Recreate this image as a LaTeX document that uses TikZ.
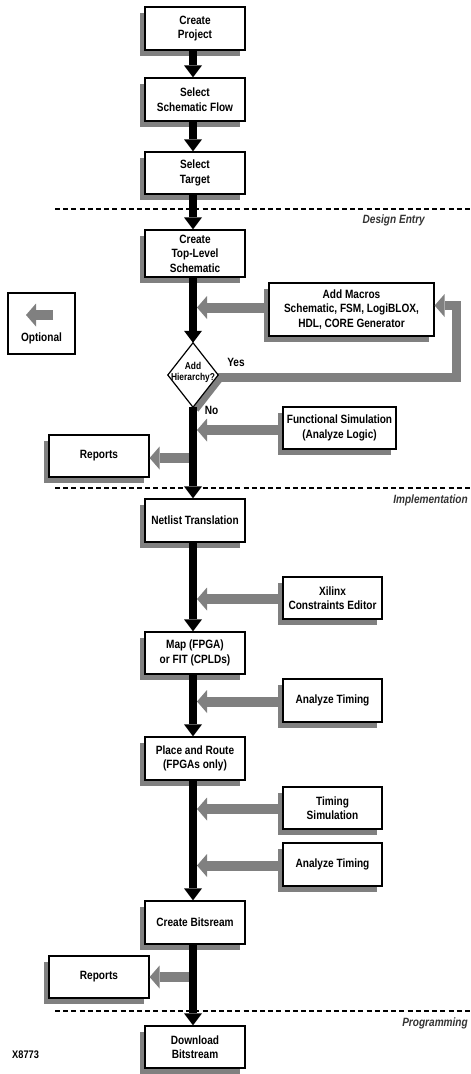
\documentclass[tikz,border=0pt]{standalone}
\usepackage{fontspec}
\setmainfont{Liberation Sans}[FakeStretch=0.84]
\usetikzlibrary{arrows.meta,shadows}
\definecolor{sg}{HTML}{808080}
\newcommand{\fsz}{\fontsize{12}{14.5}\selectfont}
\newcommand{\fsm}{\fontsize{10}{11}\selectfont}
\begin{document}
\begin{tikzpicture}[x=1pt,y=-1pt,
  box/.style={draw, line width=1.2pt, fill=white, inner sep=0pt, align=center,
    font=\fsz\bfseries, minimum width=100pt, minimum height=43pt,
    general shadow={fill=sg, shadow xshift=-5pt, shadow yshift=-6pt}},
  plain/.style={draw, line width=1.2pt, fill=white, inner sep=0pt},
  lbl/.style={inner sep=0pt, font=\fsz\bfseries},
  phase/.style={inner sep=0pt, font=\fsz\bfseries\itshape, text=black!80},
  flow/.style={line width=8.5pt, -{Triangle[width=18pt,length=12pt,line width=0pt]}},
  garr/.style={draw=sg, line width=10pt, -{Triangle[width=23pt,length=10pt,line width=0pt]}},
  dline/.style={line width=1.6pt, dash pattern=on 5pt off 3.2pt},
]
\useasboundingbox (0,0) rectangle (471,1074);

% phase separators
\draw[dline] (55,209) -- (471,209);
\draw[dline] (55,488) -- (471,488);
\draw[dline] (55,1011) -- (471,1011);
\node[phase, anchor=east] (pde) at (425,220) {Design Entry};
\node[phase, anchor=east] (pim) at (468,500) {Implementation};
\node[phase, anchor=east] (ppr) at (468,1023) {Programming};

% main column
\node[box] (p1) at (195,28.5) {Create\\Project};
\node[box] (p2) at (195,99.5) {Select\\Schematic Flow};
\node[box, minimum height=42pt] (p3) at (195,173) {Select\\Target};
\node[box, minimum height=47pt] (p4) at (195,253.5) {Create\\Top-Level\\Schematic};
\node[inner sep=0pt, minimum width=50pt, minimum height=64pt, align=center,
      font=\fsm\bfseries] (dia) at (193,375) {};
\node[box] (p5) at (195,520.5) {Netlist Translation};
\node[box, minimum height=42pt] (p6) at (195,653) {Map (FPGA)\\or FIT (CPLDs)};
\node[box] (p7) at (195,758.5) {Place and Route\\(FPGAs only)};
\node[box] (p8) at (195,922.5) {Create Bitsream};
\node[box, minimum height=42pt] (p9) at (195,1047) {Download\\Bitstream};

% side boxes
\node[box, minimum width=165pt, minimum height=53pt] (mac) at (351.5,309.5)
  {Add Macros\\Schematic, FSM, LogiBLOX,\\HDL, CORE Generator};
\node[box, minimum width=113pt, minimum height=42pt] (fun) at (339.5,428)
  {Functional Simulation\\(Analyze Logic)};
\node[box, minimum height=42pt] (rep1) at (99,456) {Reports};
\node[box, minimum width=99pt, minimum height=42pt] (xil) at (332.5,598)
  {Xilinx\\Constraints Editor};
\node[box, minimum width=99pt] (at1) at (332.5,700.5) {Analyze Timing};
\node[box, minimum width=99pt, minimum height=42pt] (tsim) at (332.5,808)
  {Timing\\Simulation};
\node[box, minimum width=99pt] (at2) at (332.5,864.5) {Analyze Timing};
\node[box, minimum height=42pt] (rep2) at (99,977) {Reports};

% legend
\node[plain, minimum width=67pt, minimum height=61pt] (opt) at (41.5,323.5) {};
\node[lbl] (optl) at (41.5,338) {Optional};
\coordinate (oa1) at (53,315);
\coordinate (oa2) at (26,315);
\draw[garr] (oa1) -- (oa2);

% helper coordinates for the main line
\coordinate (mainR) at (197,0);
\coordinate (mainL) at (190,0);
\coordinate (yesc) at (456.5,0);

% yes loop and diamond shadow
\draw[draw=sg, line width=9pt, -{Triangle[width=23pt,length=10pt,line width=0pt]}]
  ([yshift=-2pt]dia.east) -- ([yshift=-2pt]dia.east -| yesc) |- ([yshift=4pt]mac.east);
\fill[sg] (dia.east) -- ([xshift=5.5pt,yshift=-4.3pt]dia.east)
  -- ([xshift=5.5pt,yshift=-4.3pt]dia.south) -- (dia.south) -- cycle;

% gray side arrows
\draw[garr] ([yshift=2pt]mac.west) -- ([yshift=2pt]mac.west -| mainR);
\draw[garr] ([yshift=-2pt]fun.west) -- ([yshift=-2pt]fun.west -| mainR);
\draw[garr] ([yshift=-1pt]xil.west) -- ([yshift=-1pt]xil.west -| mainR);
\draw[garr] ([yshift=-1pt]at1.west) -- ([yshift=-1pt]at1.west -| mainR);
\draw[garr] ([yshift=-1pt]tsim.west) -- ([yshift=-1pt]tsim.west -| mainR);
\draw[garr] ([yshift=-1pt]at2.west) -- ([yshift=-1pt]at2.west -| mainR);
\draw[garr] ([yshift=-2pt]rep1.east -| mainL) -- ([yshift=-2pt]rep1.east);
\draw[garr] (rep2.east -| mainL) -- (rep2.east);

% black flow arrows
\draw[flow] ([xshift=-2pt]p1.south) -- ([xshift=-2pt]p2.north);
\draw[flow] ([xshift=-2pt]p2.south) -- ([xshift=-2pt]p3.north);
\draw[flow] ([xshift=-2pt]p3.south) -- ([xshift=-2pt]p4.north);
\draw[flow] ([xshift=-2pt]p4.south) -- (dia.north);
\draw[flow] (dia.south) -- ([xshift=-2pt]p5.north);
\draw[flow] ([xshift=-2pt]p5.south) -- ([xshift=-2pt]p6.north);
\draw[flow] ([xshift=-2pt]p6.south) -- ([xshift=-2pt]p7.north);
\draw[flow] ([xshift=-2pt]p7.south) -- ([xshift=-2pt]p8.north);
\draw[flow] ([xshift=-2pt]p8.south) -- ([xshift=-2pt]p9.north);

% decision diamond
\draw[line width=1.2pt, fill=white, line join=miter]
  (dia.north) -- (dia.east) -- (dia.south) -- (dia.west) -- cycle;
\node[inner sep=0pt, align=center, font=\fsm\bfseries] (dial) at (193,372) {Add\\Hierarchy?};
\node[lbl] (yes) at (236,362) {Yes};
\node[lbl] (no) at (211.5,410) {No};

\node[lbl, anchor=west, font=\fontsize{11}{13}\selectfont\bfseries] (xid) at (12,1055) {X8773};
\end{tikzpicture}
\end{document}
